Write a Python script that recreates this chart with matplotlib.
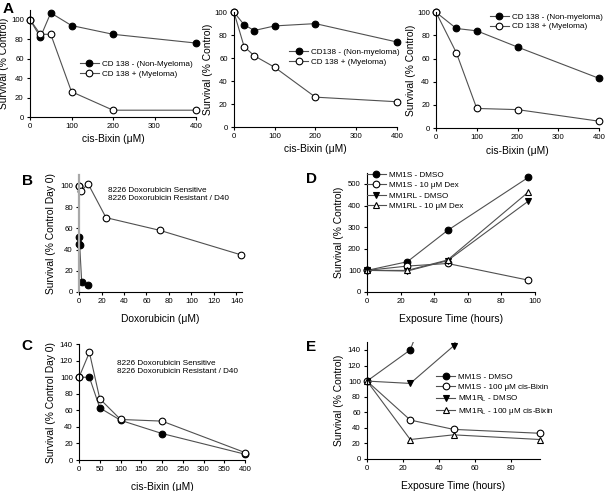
import numpy as np
import matplotlib
matplotlib.use('Agg')
import matplotlib.pyplot as plt

plt.rcParams['font.family'] = ['Liberation Sans', 'DejaVu Sans']
plt.rcParams['mathtext.default'] = 'regular'
plt.rcParams['font.size'] = 6

# panel A - three donors, cis-bixin dose
a_dose1 = [0, 25, 50, 100, 200, 400]
a1_neg = [100, 82, 107, 94, 85, 76]
a1_pos = [100, 85, 85, 26, 7, 7]
a2_neg = [100, 89, 84, 88, 90, 74]
a2_pos = [100, 70, 62, 52, 26, 22]
a_dose3 = [0, 50, 100, 200, 400]
a3_neg = [100, 86, 84, 70, 43]
a3_pos = [100, 65, 17, 16, 6]

# panel B - doxorubicin
b_sens_x = [0, 0.2, 0.4, 0.6, 2.4, 8]
b_sens_y = [100, 52, 45, 44, 9, 7]
b_res_x = [0, 2, 8, 24, 72, 144]
b_res_y = [100, 95, 102, 70, 58, 35]

# panel C - cis-bixin on 8226 lines
c_dose = [0, 25, 50, 100, 200, 400]
c_sens = [100, 100, 63, 48, 32, 7]
c_res = [100, 130, 74, 49, 47, 9]

# panel D / E - time course
hours = [0, 24, 48, 96]
d_mm1s_dmso = [100, 140, 285, 530]
d_mm1s_dex = [100, 120, 132, 55]
d_mm1rl_dmso = [100, 97, 145, 420]
d_mm1rl_dex = [100, 100, 148, 462]
e_mm1s_bix = [100, 50, 38, 33]
e_mm1rl_bix = [100, 25, 31, 25]

um = '\u03bcM'
line_c = '#505050'
TICK = 5.6
LAB = 7.4
LEG = 5.9


def style(ax):
    ax.spines['top'].set_visible(False)
    ax.spines['right'].set_visible(False)
    ax.tick_params(direction='out', length=2.5, width=0.8, pad=2, labelsize=TICK)
    for s in ['left', 'bottom']:
        ax.spines[s].set_linewidth(0.8)


def series(ax, x, y, marker, filled, label=None, clip=False):
    ax.plot(x, y, color=line_c, lw=0.8, marker=marker, ms=4.8,
            mfc='black' if filled else 'white', mec='black', mew=0.8,
            label=label, clip_on=clip)


def legend(ax, pos, spacing):
    ax.legend(loc='upper left', bbox_to_anchor=pos, frameon=False, fontsize=LEG,
              handlelength=2.3, handletextpad=0.35, labelspacing=spacing, borderpad=0,
              borderaxespad=0)


fig = plt.figure(figsize=(6.06, 4.91), dpi=100)

# A panels
boxes = [(0.0495, 0.7617, 0.274, 0.218), (0.386, 0.7413, 0.269, 0.234),
         (0.7195, 0.739, 0.269, 0.236)]
adata = [(a_dose1, a1_neg, a1_pos, 'CD 138 - (Non-Myeloma)', 'CD 138 + (Myeloma)', 110, (0.30, 0.53)),
         (a_dose1, a2_neg, a2_pos, 'CD138 - (Non-myeloma)', 'CD 138 + (Myeloma)', 100, (0.34, 0.687)),
         (a_dose3, a3_neg, a3_pos, 'CD 138 - (Non-myeloma)', 'CD 138 + (Myeloma)', 100, (0.33, 0.995))]
for box, (x, yn, yp, ln, lp, top, lpos) in zip(boxes, adata):
    ax = fig.add_axes(box)
    style(ax)
    series(ax, x, yn, 'o', True, ln)
    series(ax, x, yp, 'o', False, lp)
    ax.set_xlim(0, 400)
    ax.set_ylim(0, top)
    ax.set_xticks([0, 100, 200, 300, 400])
    ax.set_yticks([0, 20, 40, 60, 80, 100])
    ax.set_xlabel('cis-Bixin (' + um + ')', fontsize=LAB, labelpad=3)
    ax.set_ylabel('Survival (% Control)', fontsize=LAB, labelpad=1)
    legend(ax, lpos, 0.25)

fig.text(0.004, 0.995, 'A', fontsize=11, fontweight='bold', va='top')

# B
ax = fig.add_axes((0.1304, 0.4053, 0.269, 0.238))
style(ax)
ax.spines['left'].set_color('#a8a8a8')
ax.spines['left'].set_linewidth(1.6)
series(ax, b_sens_x, b_sens_y, 'o', True)
series(ax, b_res_x, b_res_y, 'o', False)
ax.set_xlim(0, 145)
ax.set_ylim(0, 110)
ax.set_xticks(np.arange(0, 141, 20))
ax.set_yticks([0, 20, 40, 60, 80, 100])
ax.set_xlabel('Doxorubicin (' + um + ')', fontsize=LAB, labelpad=6)
ax.set_ylabel('Survival (% Control Day 0)', fontsize=LAB, labelpad=3)
ax.text(0.18, 0.90, '8226 Doxorubicin Sensitive\n8226 Doxorubicin Resistant / D40',
        transform=ax.transAxes, fontsize=LEG, va='top', linespacing=1.25)
fig.text(0.036, 0.632, 'B', fontsize=11, fontweight='bold', va='center', ha='left')

# C
ax = fig.add_axes((0.1304, 0.0631, 0.274, 0.236))
style(ax)
series(ax, c_dose, c_sens, 'o', True)
series(ax, c_dose, c_res, 'o', False)
ax.set_xlim(0, 400)
ax.set_ylim(0, 140)
ax.set_xticks(np.arange(0, 401, 50))
ax.set_yticks(np.arange(0, 141, 20))
ax.set_xlabel('cis-Bixin (' + um + ')', fontsize=LAB, labelpad=6)
ax.set_ylabel('Survival (% Control Day 0)', fontsize=LAB, labelpad=3)
ax.text(0.23, 0.865, '8226 Doxorubicin Sensitive\n8226 Doxorubicin Resistant / D40',
        transform=ax.transAxes, fontsize=LEG, va='top', linespacing=1.3)
fig.text(0.036, 0.295, 'C', fontsize=11, fontweight='bold', va='center', ha='left')

# D
ax = fig.add_axes((0.6056, 0.4053, 0.277, 0.242))
style(ax)
series(ax, hours, d_mm1s_dmso, 'o', True, 'MM1S - DMSO')
series(ax, hours, d_mm1s_dex, 'o', False, 'MM1S - 10 ' + um + ' Dex')
series(ax, hours, d_mm1rl_dmso, 'v', True, 'MM1RL - DMSO')
series(ax, hours, d_mm1rl_dex, '^', False, 'MM1RL - 10 ' + um + ' Dex')
ax.set_xlim(0, 100)
ax.set_ylim(0, 550)
ax.set_xticks(np.arange(0, 101, 20))
ax.set_yticks(np.arange(0, 501, 100))
ax.set_xlabel('Exposure Time (hours)', fontsize=LAB, labelpad=6)
ax.set_ylabel('Survival (% Control)', fontsize=LAB, labelpad=3)
legend(ax, (0.0, 1.015), 0.3)
fig.text(0.505, 0.635, 'D', fontsize=11, fontweight='bold', va='center', ha='left')

# E
ax = fig.add_axes((0.6056, 0.0652, 0.2855, 0.238))
style(ax)
series(ax, hours, d_mm1s_dmso, 'o', True, 'MM1S - DMSO', clip=True)
series(ax, hours, e_mm1s_bix, 'o', False, 'MM1S - 100 ' + um + ' cis-Bixin')
series(ax, hours, d_mm1rl_dmso, 'v', True, 'MM1R$_L$ - DMSO', clip=True)
series(ax, hours, e_mm1rl_bix, '^', False, 'MM1R$_L$ - 100 ' + um + ' cis-Bixin')
ax.set_xlim(0, 96)
ax.set_ylim(0, 150)
ax.set_xticks(np.arange(0, 81, 20))
ax.set_yticks(np.arange(0, 141, 20))
ax.set_xlabel('Exposure Time (hours)', fontsize=LAB, labelpad=6)
ax.set_ylabel('Survival (% Control)', fontsize=LAB, labelpad=3)
legend(ax, (0.4, 0.735), 0.3)
fig.text(0.505, 0.293, 'E', fontsize=11, fontweight='bold', va='center', ha='left')

fig.savefig('out.png', dpi=100)
